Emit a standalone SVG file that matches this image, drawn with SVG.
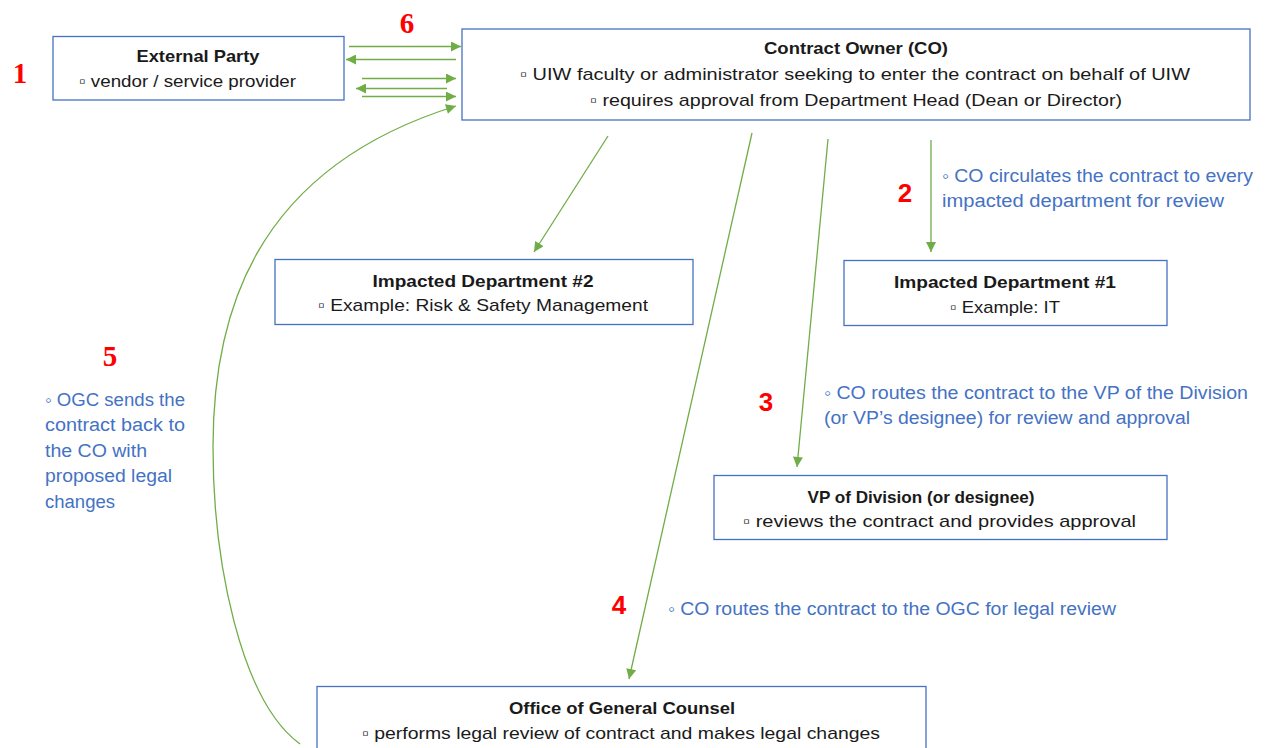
<svg xmlns="http://www.w3.org/2000/svg" width="1265" height="748" viewBox="0 0 1265 748">
<style>
.box{fill:#fff;stroke:#4472C4;stroke-width:1.3}
.t{font-family:"Liberation Sans",Arial,sans-serif;font-size:17px;fill:#1a1a1a}
.b{font-weight:bold}
.blue{font-family:"Liberation Sans",Arial,sans-serif;font-size:18px;fill:#4472C4}
.num{font-family:"Liberation Serif","Times New Roman",serif;font-weight:bold;font-size:29px;fill:#FF0000}
.nums{font-family:"Liberation Sans",Arial,sans-serif;font-weight:bold;font-size:26px;fill:#FF0000}
.c{fill:none;stroke:#70AD47;stroke-width:1.3}
</style>
<defs>
<marker id="ah" viewBox="0 0 10 10" refX="10" refY="5" markerWidth="12" markerHeight="10" markerUnits="userSpaceOnUse" orient="auto">
<path d="M0,0 L10,5 L0,10 Z" fill="#70AD47"/>
</marker>
</defs>
<rect width="1265" height="748" fill="#fff"/>
<g id="connectors">
<line class="c" x1="349" y1="46.5" x2="461" y2="46.5" marker-end="url(#ah)"/>
<line class="c" x1="456" y1="59.5" x2="346" y2="59.5" marker-end="url(#ah)"/>
<line class="c" x1="362" y1="78.5" x2="456" y2="78.5" marker-end="url(#ah)"/>
<line class="c" x1="447" y1="88.5" x2="356" y2="88.5" marker-end="url(#ah)"/>
<line class="c" x1="362" y1="96.5" x2="456" y2="96.5" marker-end="url(#ah)"/>
<path class="c" d="M300,744 C240,700 213,560 213,447 C213,320 250,170 456,106" marker-end="url(#ah)"/>
<line class="c" x1="608" y1="136" x2="534" y2="252" marker-end="url(#ah)"/>
<line class="c" x1="931" y1="140" x2="931" y2="252" marker-end="url(#ah)"/>
<line class="c" x1="828" y1="139" x2="797" y2="467" marker-end="url(#ah)"/>
<line class="c" x1="752" y1="133" x2="629" y2="679" marker-end="url(#ah)"/>
</g>
<g id="external-party">
<rect class="box" x="53" y="36.5" width="291" height="63.5"/>
<text class="t b" x="198" y="62" text-anchor="middle" textLength="123" lengthAdjust="spacingAndGlyphs">External Party</text>
<text class="t" x="79" y="87" textLength="217" lengthAdjust="spacingAndGlyphs">▫ vendor / service provider</text>
</g>
<g id="contract-owner">
<rect class="box" x="462" y="29" width="788" height="91"/>
<text class="t b" x="856" y="54" text-anchor="middle" textLength="184" lengthAdjust="spacingAndGlyphs">Contract Owner (CO)</text>
<text class="t" x="855" y="80" text-anchor="middle" textLength="670" lengthAdjust="spacingAndGlyphs">▫ UIW faculty or administrator seeking to enter the contract on behalf of UIW</text>
<text class="t" x="856" y="106" text-anchor="middle" textLength="532" lengthAdjust="spacingAndGlyphs">▫ requires approval from Department Head (Dean or Director)</text>
</g>
<g id="impacted-dept-2">
<rect class="box" x="275" y="259.5" width="418" height="65"/>
<text class="t b" x="483" y="287" text-anchor="middle" textLength="221" lengthAdjust="spacingAndGlyphs">Impacted Department #2</text>
<text class="t" x="318" y="311" textLength="330" lengthAdjust="spacingAndGlyphs">▫ Example: Risk &amp; Safety Management</text>
</g>
<g id="impacted-dept-1">
<rect class="box" x="844" y="260.5" width="323" height="65"/>
<text class="t b" x="1005" y="288" text-anchor="middle" textLength="222" lengthAdjust="spacingAndGlyphs">Impacted Department #1</text>
<text class="t" x="950" y="313" textLength="110" lengthAdjust="spacingAndGlyphs">▫ Example: IT</text>
</g>
<g id="vp-division">
<rect class="box" x="714" y="475.5" width="453" height="64"/>
<text class="t b" x="921" y="503" text-anchor="middle" textLength="227" lengthAdjust="spacingAndGlyphs">VP of Division (or designee)</text>
<text class="t" x="743" y="527" textLength="393" lengthAdjust="spacingAndGlyphs">▫  reviews the contract and provides approval</text>
</g>
<g id="ogc">
<rect class="box" x="317" y="686.5" width="609" height="70"/>
<text class="t b" x="622" y="714" text-anchor="middle" textLength="226" lengthAdjust="spacingAndGlyphs">Office of General Counsel</text>
<text class="t" x="362" y="739" textLength="518" lengthAdjust="spacingAndGlyphs">▫ performs legal review of contract and makes legal changes</text>
</g>
<g id="labels">
<text class="num" x="20" y="83" text-anchor="middle">1</text>
<text class="num" x="407" y="33" text-anchor="middle">6</text>
<text class="nums" x="905" y="202" text-anchor="middle">2</text>
<text class="nums" x="766" y="411" text-anchor="middle">3</text>
<text class="nums" x="619" y="614" text-anchor="middle">4</text>
<text class="num" x="110" y="366" text-anchor="middle">5</text>
<text class="blue" x="942" y="182" textLength="311" lengthAdjust="spacingAndGlyphs">◦ CO circulates the contract to every</text>
<text class="blue" x="942" y="207" textLength="282" lengthAdjust="spacingAndGlyphs">impacted department for review</text>
<text class="blue" x="824" y="399" textLength="424" lengthAdjust="spacingAndGlyphs">◦ CO routes the contract to the VP of the Division</text>
<text class="blue" x="824" y="424" textLength="366" lengthAdjust="spacingAndGlyphs">(or VP’s designee) for review and approval</text>
<text class="blue" x="668" y="615" textLength="448" lengthAdjust="spacingAndGlyphs">◦ CO routes the contract to the OGC for legal review</text>
<text class="blue" x="45" y="406" textLength="140" lengthAdjust="spacingAndGlyphs">◦ OGC sends the</text>
<text class="blue" x="45" y="431" textLength="140" lengthAdjust="spacingAndGlyphs">contract back to</text>
<text class="blue" x="45" y="457" textLength="102" lengthAdjust="spacingAndGlyphs">the CO with</text>
<text class="blue" x="45" y="482" textLength="127" lengthAdjust="spacingAndGlyphs">proposed legal</text>
<text class="blue" x="45" y="508" textLength="70" lengthAdjust="spacingAndGlyphs">changes</text>
</g>
</svg>
